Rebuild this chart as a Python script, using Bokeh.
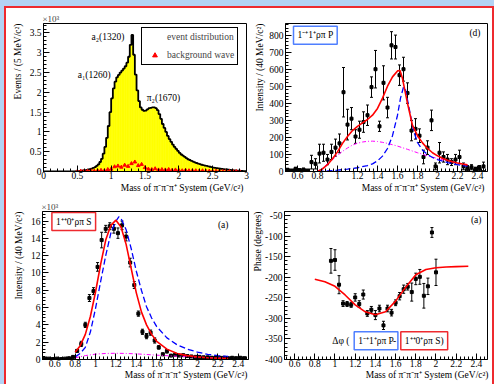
import numpy as np
from math import pi
from bokeh.plotting import figure
from bokeh.layouts import column, row
from bokeh.models import (Range1d, FixedTicker, NumeralTickFormatter, Label, Legend,
                          LegendItem, Whisker, TeeHead, ColumnDataSource, Title)
from bokeh.embed import file_html
from bokeh.resources import INLINE

FONT = "Liberation Serif"

# ---------------- top-left: event distribution ----------------
ev_bin = 0.025
ev_vals = [0, 0, 0, 0, 0, 0, 0, 0, 0, 0, 0, 0, 0, 0, 0, 0, 0, 0, 0.003, 0.006,
           0.01, 0.015, 0.02, 0.025, 0.03, 0.04, 0.05, 0.06, 0.075, 0.09,
           0.11, 0.14, 0.18, 0.24, 0.32, 0.45, 0.62, 0.85, 1.15, 1.5,
           1.85, 2.1, 2.27, 2.38, 2.44, 2.5, 2.55, 2.6, 2.66, 2.75,
           2.9, 3.2, 3.45, 2.95, 2.45, 2.05, 1.78, 1.62, 1.56, 1.53,
           1.54, 1.57, 1.6, 1.61, 1.62, 1.62, 1.6, 1.55, 1.45, 1.33,
           1.2, 1.1, 1.0, 0.9, 0.82, 0.75, 0.68, 0.62, 0.57, 0.52,
           0.47, 0.43, 0.4, 0.37, 0.34, 0.31, 0.29, 0.27, 0.25, 0.23,
           0.215, 0.2, 0.185, 0.17, 0.16, 0.15, 0.14, 0.13, 0.12, 0.11,
           0.1, 0.09, 0.085, 0.08, 0.07, 0.065, 0.06, 0.055, 0.05, 0.045,
           0.04, 0.035, 0.03, 0.027, 0.024, 0.02, 0.017, 0.014, 0.01, 0.008]
bg_mass = [0.50, 0.55, 0.60, 0.65, 0.70, 0.75, 0.80, 0.85, 0.90, 0.95, 1.00, 1.05,
           1.10, 1.15, 1.20, 1.25, 1.30, 1.35, 1.40, 1.45, 1.50, 1.55, 1.60, 1.65,
           1.70, 1.75, 1.80, 1.85, 1.90, 1.95, 2.00, 2.05, 2.10, 2.15, 2.20, 2.25,
           2.30, 2.35, 2.40, 2.45, 2.50, 2.55, 2.60, 2.65, 2.70, 2.75, 2.80, 2.85, 2.90]
bg_vals = [0.0, 0.01, 0.01, 0.01, 0.02, 0.01, 0.02, 0.03, 0.02, 0.05, 0.06, 0.12,
           0.14, 0.11, 0.16, 0.13, 0.2, 0.24, 0.15, 0.18, 0.1, 0.06, 0.05, 0.07,
           0.04, 0.05, 0.04, 0.05, 0.03, 0.04, 0.03, 0.02, 0.03, 0.02, 0.02, 0.02,
           0.01, 0.02, 0.01, 0.01, 0.01, 0.01, 0.01, 0.0, 0.01, 0.0, 0.0, 0.0, 0.0]

# ---------------- top-right: 1-+ 1+ rho pi P ----------------
p_mass = [0.50, 0.54, 0.58, 0.62, 0.66, 0.70, 0.74, 0.78, 0.82, 0.86, 0.90, 0.94,
          0.98, 1.02, 1.06, 1.10, 1.14, 1.18, 1.22, 1.26, 1.30, 1.34, 1.38, 1.42,
          1.46, 1.50, 1.54, 1.58, 1.62, 1.66, 1.70, 1.74, 1.78, 1.82, 1.86, 1.90,
          1.94, 1.98, 2.02, 2.06, 2.10, 2.14, 2.18, 2.22, 2.26, 2.30, 2.34, 2.38,
          2.42, 2.46]
p_int = [10, 5, 15, 8, 10, 5, 55, 45, 105, 110, 70, 115,
         140, 165, 465, 275, 310, 205, 245, 290, 330, 495, 600, 265,
         520, 375, 740, 730, 565, 600, 460, 240, 250, 210, 85, 140,
         300, 30, 110, 85, 70, 55, 70, 85, 30, 20, 25, 15,
         20, 30]
p_err = [8, 8, 10, 8, 10, 8, 40, 30, 55, 50, 30, 45,
         50, 55, 145, 90, 65, 40, 50, 60, 60, 60, 110, 30,
         100, 60, 80, 70, 60, 70, 60, 60, 60, 40, 40, 40,
         60, 20, 60, 30, 30, 20, 30, 40, 20, 15, 15, 10,
         15, 25]
p_fit_m = [0.80, 0.85, 0.90, 0.95, 1.00, 1.05, 1.10, 1.15, 1.20, 1.25, 1.30, 1.35,
           1.40, 1.45, 1.50, 1.55, 1.60, 1.625, 1.65, 1.70, 1.75, 1.80, 1.85, 1.90,
           1.95, 2.00, 2.05, 2.10, 2.15, 2.20, 2.25, 2.30]
p_total = [0, 15, 40, 75, 115, 165, 205, 240, 265, 285, 305, 330,
           370, 430, 500, 555, 590, 592, 545, 400, 270, 210, 168, 135,
           110, 92, 78, 66, 57, 50, 44, 39]
p_res_m = [0.80, 0.90, 1.00, 1.10, 1.20, 1.30, 1.35, 1.40, 1.45, 1.50, 1.55, 1.60,
           1.63, 1.66, 1.68, 1.70, 1.73, 1.76, 1.80, 1.85, 1.90, 1.95, 2.00, 2.10,
           2.20, 2.30]
p_res = [0, 3, 8, 14, 22, 35, 45, 62, 90, 135, 210, 330,
         430, 495, 480, 420, 330, 240, 170, 125, 100, 82, 70, 52,
         40, 31]
p_bkg_m = [0.80, 0.85, 0.90, 0.95, 1.00, 1.05, 1.10, 1.15, 1.20, 1.25, 1.30, 1.35,
           1.40, 1.45, 1.50, 1.55, 1.60, 1.70, 1.80, 1.90, 2.00, 2.10, 2.20, 2.30]
p_bkg = [0, 20, 45, 70, 95, 118, 138, 155, 166, 173, 177, 178,
         176, 171, 165, 157, 149, 130, 110, 92, 76, 62, 50, 40]

# ---------------- bottom-left: 1++ 0+ rho pi S ----------------
s_mass = p_mass
s_int = [0.05, 0.1, 0.05, 0.1, 0.05, 0.1, 0.15, 0.3, 1.0, 1.8, 4.0, 7.1,
         7.9, 10.7, 13.8, 15.1, 15.4, 15.1, 14.6, 15.5, 14.2, 11.2, 8.6, 5.3,
         3.2, 2.7, 3.1, 2.2, 1.4, 0.6, 0.95, 0.45, 0.55, 0.45, 0.5, 0.4,
         0.35, 0.3, 0.3, 0.25, 0.25, 0.2, 0.25, 0.2, 0.2, 0.15, 0.2, 0.15,
         0.2, 0.15]
s_err = [0.05, 0.05, 0.05, 0.05, 0.05, 0.05, 0.08, 0.1, 0.15, 0.3, 0.3, 0.4,
         0.4, 0.5, 0.9, 0.4, 0.4, 0.5, 0.6, 0.5, 0.5, 0.5, 0.4, 0.3,
         0.3, 0.3, 0.3, 0.3, 0.2, 0.15, 0.2, 0.1, 0.1, 0.1, 0.1, 0.1,
         0.1, 0.1, 0.1, 0.1, 0.1, 0.1, 0.1, 0.1, 0.1, 0.1, 0.1, 0.1,
         0.1, 0.1]
s_tot_m = [0.80, 0.85, 0.90, 0.95, 1.00, 1.05, 1.10, 1.15, 1.20, 1.25, 1.30, 1.35,
           1.40, 1.45, 1.50, 1.55, 1.60, 1.70, 1.80, 1.90, 2.00, 2.10, 2.20, 2.30]
s_total = [0.85, 1.6, 2.9, 5.0, 7.8, 11.0, 13.8, 15.5, 16.1, 15.3, 13.3, 10.5,
           7.7, 5.5, 4.0, 2.9, 2.1, 1.2, 0.7, 0.45, 0.3, 0.2, 0.15, 0.1]
s_res_m = [0.80, 0.85, 0.90, 0.95, 1.00, 1.05, 1.10, 1.15, 1.20, 1.23, 1.25, 1.30,
           1.35, 1.40, 1.45, 1.50, 1.55, 1.60, 1.70, 1.80, 1.90, 2.00, 2.10, 2.20, 2.30]
s_res = [0.3, 0.7, 1.4, 3.2, 5.9, 9.0, 12.0, 14.6, 16.0, 16.5, 16.3, 15.0,
         12.8, 10.2, 8.0, 6.1, 4.8, 3.8, 2.5, 1.7, 1.2, 0.85, 0.6, 0.45, 0.35]
s_bkg_m = [0.80, 0.90, 1.00, 1.10, 1.20, 1.30, 1.40, 1.50, 1.60, 1.80, 2.00, 2.20, 2.30]
s_bkg = [0.2, 0.45, 0.62, 0.7, 0.72, 0.7, 0.65, 0.58, 0.5, 0.38, 0.27, 0.18, 0.15]

# ---------------- bottom-right: phase difference ----------------
ph_mass = [0.96, 1.00, 1.04, 1.08, 1.12, 1.16, 1.20, 1.24, 1.28, 1.32, 1.36, 1.40,
           1.44, 1.48, 1.52, 1.56, 1.60, 1.64, 1.68, 1.72, 1.76, 1.80, 1.84, 1.88,
           1.92, 1.96, 2.00]
ph_val = [-160, -158, -218, -264, -265, -267, -249, -265, -242, -288, -279, -292,
          -276, -317, -276, -286, -262, -246, -229, -223, -236, -204, -199, -245,
          -222, -91, -188]
ph_err = [30, 25, 22, 7, 6, 6, 9, 8, 11, 7, 8, 11,
          8, 10, 8, 8, 7, 9, 10, 8, 22, 14, 18, 30,
          20, 12, 32]
ph_fit_m = [0.80, 0.90, 1.00, 1.10, 1.20, 1.30, 1.40, 1.50, 1.60, 1.70, 1.80, 1.90,
            2.00, 2.10, 2.20, 2.32]
ph_fit = [-205, -211, -222, -243, -267, -284, -291, -284, -258, -224, -194, -181,
          -177, -175, -174, -173]

X_TITLE = "Mass of \u03c0\u207b\u03c0\u207b\u03c0\u207a System (GeV/c\u00b2)"
WAVE_P = "1\u207b\u207a1\u207a\u03c1\u03c0 P"
WAVE_S = "1\u207a\u207a0\u207a\u03c1\u03c0 S"
RED = "#ee2a2f"
BLUE_BG = "#b3d3f4"


def side_title(p, text, side, standoff, offset, valign):
    p.add_layout(Title(text=text, align="right", vertical_align=valign, text_font=FONT,
                       text_font_size="9.5px", text_font_style="normal",
                       text_color="black", standoff=standoff, offset=offset), side)


def panel(w, h, bl, br, bt, bb, xr, yr, xt, xm, yt, ym, xfmt, yfmt,
          xtitle, ytitle, xstand, ystand, xoff, expo=None):
    p = figure(width=w, height=h, x_range=Range1d(*xr), y_range=Range1d(*yr),
               output_backend="svg", toolbar_location=None,
               min_border_left=bl, min_border_right=br,
               min_border_top=bt, min_border_bottom=bb)
    p.xgrid.visible = False
    p.ygrid.visible = False
    p.outline_line_color = "black"
    p.outline_line_alpha = 1.0
    p.outline_line_width = 1
    p.background_fill_color = "white"
    p.border_fill_color = "white"
    p.xaxis.ticker = FixedTicker(ticks=xt, minor_ticks=xm)
    p.yaxis.ticker = FixedTicker(ticks=yt, minor_ticks=ym)
    p.xaxis.formatter = NumeralTickFormatter(format=xfmt)
    p.yaxis.formatter = NumeralTickFormatter(format=yfmt)
    for ax in (p.xaxis[0], p.yaxis[0]):
        ax.major_tick_in = 6
        ax.major_tick_out = 0
        ax.minor_tick_in = 3
        ax.minor_tick_out = 0
        ax.axis_line_color = "black"
        ax.major_tick_line_color = "black"
        ax.minor_tick_line_color = "black"
        ax.major_label_text_font = FONT
        ax.major_label_text_font_size = "9.5px"
        ax.major_label_text_color = "black"
        ax.axis_label_standoff = 0
    p.xaxis.major_label_standoff = 0
    p.yaxis.major_label_standoff = 2
    side_title(p, xtitle, "below", xstand, xoff, "top")
    side_title(p, ytitle, "left", ystand, 0, "bottom")
    if expo:
        p.title.text = expo
        p.title.align = "left"
        p.title.text_font = FONT
        p.title.text_font_size = "9px"
        p.title.text_font_style = "normal"
        p.title.standoff = 0
        p.title.offset = -1
    return p


def lab(p, x, y, text, size="9.5px", align="left", baseline="middle", angle=0.0,
        units="screen", **kw):
    p.add_layout(Label(x=x, y=y, x_units=units, y_units=units, text=text,
                       text_font=FONT, text_font_size=size, text_align=align,
                       text_baseline=baseline, angle=angle, text_color="black", **kw))


def ticks(a, b, step):
    n = int(round((b - a) / step))
    return [round(a + i * step, 4) for i in range(n + 1)]


def points(p, xs, ys, es):
    src = ColumnDataSource(dict(x=xs, y=ys, lo=[y - e for y, e in zip(ys, es)],
                                hi=[y + e for y, e in zip(ys, es)]))
    p.add_layout(Whisker(source=src, base="x", lower="lo", upper="hi", dimension="height",
                         line_color="black", line_width=1,
                         lower_head=TeeHead(size=3, line_color="black", line_width=1),
                         upper_head=TeeHead(size=3, line_color="black", line_width=1)))
    p.scatter("x", "y", source=src, marker="square", size=3, color="black")


# ---------- TL ----------
tl = panel(244, 190, 37, 4, 14, 27, (0, 3), (0, 3.74),
           ticks(0, 3, 0.5), ticks(0, 3, 0.1), ticks(0, 3.5, 0.5), ticks(0, 3.7, 0.1),
           "0.[0]", "0.[0]", X_TITLE, "Events / (5 MeV/c\u00b2)", 2, 8, 3, "\u00d710\u00b3")
ev_lo = [round(i * ev_bin, 4) for i in range(len(ev_vals))]
ev_hi = [round(v + ev_bin, 4) for v in ev_lo]
hist = tl.quad(left=ev_lo, right=ev_hi, bottom=0, top=ev_vals, fill_color="#ffff00",
               line_color="#ffff00", line_width=0.6)
tl.step(x=ev_lo + [ev_hi[-1]], y=ev_vals + [ev_vals[-1]], mode="after",
        line_color="black", line_width=1.8)
bgr = tl.scatter(bg_mass, bg_vals, marker="triangle", size=3.5, color="#ff0000")
proxy = tl.quad(left=[], right=[], bottom=[], top=[], fill_color="#ffff00",
                line_color="black", line_width=1)
leg = Legend(items=[LegendItem(label="event distribution", renderers=[proxy]),
                    LegendItem(label="background wave", renderers=[bgr])],
             location=(98, 106), border_line_color="black", border_line_width=1,
             border_line_alpha=1, background_fill_color="white", background_fill_alpha=1,
             label_text_font=FONT, label_text_font_size="9.5px", glyph_width=19,
             glyph_height=12, label_height=12, spacing=6, padding=3, margin=0,
             label_standoff=3)
tl.add_layout(leg)
lab(tl, 0.71, 3.4, "a\u2082(1320)", units="data")
lab(tl, 0.507, 2.44, "a\u2081(1260)", units="data")
lab(tl, 1.527, 1.87, "\u03c0\u2082(1670)", units="data")

# ---------- TR ----------
tr = panel(242, 190, 33, 5, 15, 27, (0.48, 2.5), (0, 868),
           ticks(0.6, 2.4, 0.2), ticks(0.52, 2.48, 0.04), ticks(0, 800, 100), ticks(0, 860, 20),
           "0.[0]", "0", X_TITLE, "Intensity / (40 MeV/c\u00b2)", 2, 4, 3)
points(tr, p_mass, p_int, p_err)
tr.line(p_bkg_m, p_bkg, line_color="#ff00ff", line_width=1, line_dash="4 2 1 2")
tr.line(p_res_m, p_res, line_color="#0000ff", line_width=1.3, line_dash="6 3")
tr.line(p_fit_m, p_total, line_color="#ff0000", line_width=1.6)
lab(tr, 195, 138.3, "(d)", align="right")
lab(tr, 8, 136.3, WAVE_P, border_line_color="#4f7fff", border_line_width=1.5,
    background_fill_color="white", padding=4)

# ---------- BL ----------
bl = panel(244, 186, 36, 2, 13, 25, (0.48, 2.5), (0, 17.1),
           ticks(0.6, 2.4, 0.2), ticks(0.52, 2.48, 0.04), ticks(0, 16, 2), ticks(0, 17, 0.4),
           "0.[0]", "0", X_TITLE, "Intensity / (40 MeV/c\u00b2)", 0, 8, 1, "\u00d710\u00b3")
points(bl, s_mass, s_int, s_err)
bl.line(s_bkg_m, s_bkg, line_color="#ff00ff", line_width=1, line_dash="4 2 1 2")
bl.line(s_res_m, s_res, line_color="#0000ff", line_width=1.3, line_dash="6 3")
bl.line(s_tot_m, s_total, line_color="#ff0000", line_width=1.6)
lab(bl, 186, 134.7, "(a)", align="right")
lab(bl, 9.4, 138, WAVE_S, border_line_color=RED, border_line_width=1.5,
    background_fill_color="white", padding=4)

# ---------- BR ----------
br = panel(242, 186, 31, 5, 11, 25, (0.5, 2.51), (-400, -40),
           ticks(0.6, 2.4, 0.2), ticks(0.52, 2.48, 0.04), ticks(-400, -50, 50), ticks(-400, -40, 10),
           "0.[0]", "0", X_TITLE, "Phase (degrees)", 0, 0, -1)
points(br, ph_mass, ph_val, ph_err)
br.line(ph_fit_m, ph_fit, line_color="#ff0000", line_width=1.6)
lab(br, 197, 140, "(a)", align="right")
lab(br, 65, 18.7, "\u0394\u03c6 (", align="right")
lab(br, 69.7, 18.7, WAVE_P, border_line_color="#4f7fff", border_line_width=1.5,
    background_fill_color="white", padding=4)
lab(br, 110, 18.7, "-", align="center")
lab(br, 116.3, 18.7, WAVE_S + ")", border_line_color=RED, border_line_width=1.5,
    background_fill_color="white", padding=4)

inner = column(row(tl, tr), row(bl, br),
               styles={"border-top": "2px solid " + RED, "border-left": "2px solid " + RED,
                       "border-right": "2px solid " + RED})
layout = column(inner, styles={"border-top": "6px solid " + BLUE_BG,
                               "border-left": "4px solid " + BLUE_BG})
open("out.html", "w").write(file_html(layout, INLINE))
